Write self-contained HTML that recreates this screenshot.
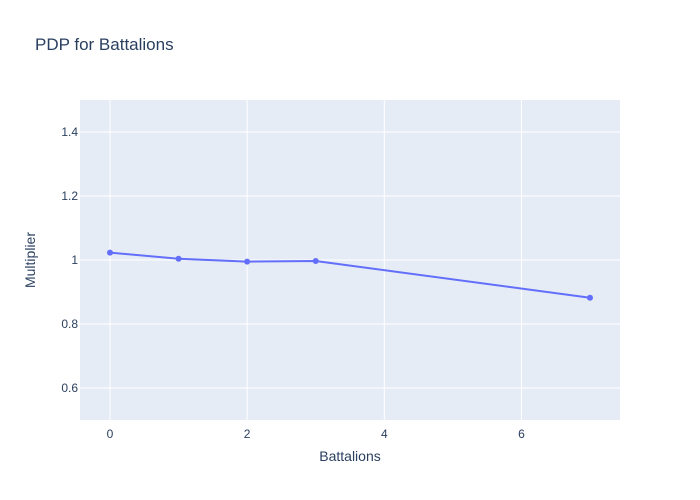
<!DOCTYPE html>
<html><head><meta charset="utf-8"><style>
body{margin:0;background:#fff;}
svg{display:block;font-family:"Liberation Sans",sans-serif;}
</style></head><body>
<svg id="chart" width="700" height="500">
<rect x="0" y="0" width="700" height="500" fill="#fff"/>
<rect x="80" y="100" width="540" height="320" fill="#e5ecf6"/>
<g id="grid"></g>
<g id="ticks"></g>
<g id="series"></g>
<text x="35" y="50" font-size="17" fill="#2a3f5f">PDP for Battalions</text>
<text x="350" y="461" font-size="14" fill="#2a3f5f" text-anchor="middle">Battalions</text>
<text x="35" y="260" font-size="14" fill="#2a3f5f" text-anchor="middle" transform="rotate(-90 35 260)">Multiplier</text>
</svg>
<script>
const xValues=[0,1,2,3,7];
const yValues=[1.023,1.004,0.995,0.997,0.882];
const xTicks=[0,2,4,6];
const yTicks=[0.6,0.8,1,1.2,1.4];
const yTickLabels=["0.6","0.8","1","1.2","1.4"];
const NS="http://www.w3.org/2000/svg";
const X0=80,X1=620,Y0=100,Y1=420,XMIN=-0.4375,XMAX=7.4375,YMIN=0.5,YMAX=1.5;
function sx(v){return X0+(v-XMIN)/(XMAX-XMIN)*(X1-X0);}
function sy(v){return Y1-(v-YMIN)/(YMAX-YMIN)*(Y1-Y0);}
function mk(tag,attrs,parent){const e=document.createElementNS(NS,tag);for(const k in attrs)e.setAttribute(k,attrs[k]);parent.appendChild(e);return e;}
const grid=document.getElementById('grid'),ticks=document.getElementById('ticks'),series=document.getElementById('series');
xTicks.forEach(t=>{
 const l=mk('line',{x1:sx(t),x2:sx(t),y1:Y0,y2:Y1,stroke:'#fff','stroke-width':1},grid);
 
 
 const tx=mk('text',{x:sx(t),y:Y1+18,'font-size':12,fill:'#2a3f5f','text-anchor':'middle'},ticks);
 tx.textContent=String(t);
 
 
});
yTicks.forEach((t,i)=>{
 const l=mk('line',{x1:X0,x2:X1,y1:sy(t),y2:sy(t),stroke:'#fff','stroke-width':1},grid);
 
 
 const tx=mk('text',{x:X0-2,y:sy(t)+4,'font-size':12,fill:'#2a3f5f','text-anchor':'end'},ticks);
 tx.textContent=yTickLabels[i];
 
 
});
const pts=xValues.map((x,i)=>sx(x)+','+sy(yValues[i])).join(' ');
const pl=mk('polyline',{points:pts,fill:'none',stroke:'#636efa','stroke-width':2},series);


xValues.forEach((x,i)=>{
 const c=mk('circle',{cx:sx(x),cy:sy(yValues[i]),r:3,fill:'#636efa'},series);
 
 
});
</script>
</body></html>
